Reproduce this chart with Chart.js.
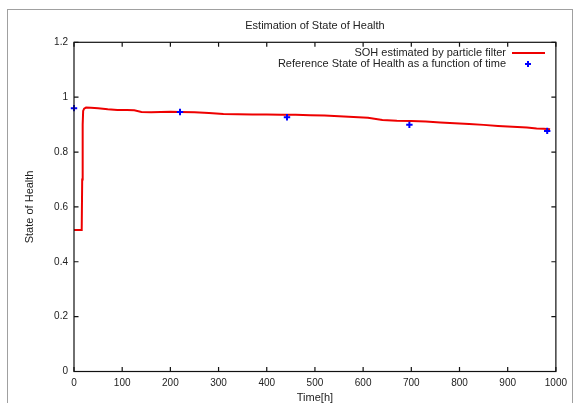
<!DOCTYPE html>
<html>
<head>
<meta charset="utf-8">
<script src="https://cdn.jsdelivr.net/npm/chart.js@4"></script>
<style>
  html, body { margin: 0; padding: 0; background: #fff; }
  #wrap { position: relative; width: 573px; height: 403px; overflow: hidden; }
  #frame { position: absolute; left: 7px; top: 9px; width: 566px; height: 420px; border: 1px solid #a0a0a0; box-sizing: border-box; }
  canvas { position: absolute; left: 0; top: 0; }
</style>
</head>
<body>
<div id="wrap">
  <div id="frame"></div>
  <canvas id="c" width="573" height="403"></canvas>
</div>
<script>
const chartTitle = "Estimation of State of Health";
const xTitle = "Time[h]";
const yTitle = "State of Health";
const filterLabel = "SOH estimated by particle filter";
const refLabel = "Reference State of Health as a function of time";

const xTicks = [0, 100, 200, 300, 400, 500, 600, 700, 800, 900, 1000];
const xTickLabels = ["0", "100", "200", "300", "400", "500", "600", "700", "800", "900", "1000"];
const yTicks = [0, 0.2, 0.4, 0.6, 0.8, 1, 1.2];
const yTickLabels = ["0", "0.2", "0.4", "0.6", "0.8", "1", "1.2"];

const filterTime = [0, 16, 17, 18, 19, 21, 25, 35, 50, 70, 90, 110, 125, 140, 160, 180, 200, 220, 250, 280, 310, 340, 370, 400, 430, 460, 490, 520, 550, 580, 610, 640, 670, 700, 730, 760, 790, 820, 850, 880, 910, 940, 960, 975, 988];
const filterSOH  = [0.516, 0.516, 0.70, 0.90, 0.95, 0.958, 0.962, 0.961, 0.960, 0.956, 0.953, 0.953, 0.952, 0.946, 0.945, 0.946, 0.947, 0.946, 0.945, 0.942, 0.939, 0.938, 0.937, 0.937, 0.936, 0.936, 0.934, 0.933, 0.930, 0.928, 0.925, 0.917, 0.914, 0.913, 0.911, 0.908, 0.905, 0.902, 0.899, 0.895, 0.892, 0.889, 0.886, 0.885, 0.883];

const refTime = [0, 220, 442, 696, 982];
const refSOH  = [0.960, 0.946, 0.927, 0.899, 0.877];

const FONT = "'Liberation Sans', Arial, sans-serif";
const TXT = '#222';

const framePlugin = {
  id: 'gnuFrame',
  afterDatasetsDraw(chart) {
    const {ctx, chartArea: a, scales: {x, y}} = chart;
    ctx.save();
    ctx.strokeStyle = '#111';
    ctx.lineWidth = 1.2;
    ctx.strokeRect(a.left, a.top, a.right - a.left, a.bottom - a.top);
    const tl = 4.5;
    ctx.beginPath();
    xTicks.forEach(v => {
      const px = x.getPixelForValue(v);
      ctx.moveTo(px, a.bottom); ctx.lineTo(px, a.bottom - tl);
      ctx.moveTo(px, a.top); ctx.lineTo(px, a.top + tl);
    });
    yTicks.forEach(v => {
      const py = y.getPixelForValue(v);
      ctx.moveTo(a.left, py); ctx.lineTo(a.left + tl, py);
      ctx.moveTo(a.right, py); ctx.lineTo(a.right - tl, py);
    });
    ctx.stroke();

    // title
    ctx.fillStyle = TXT;
    ctx.font = '11px ' + FONT;
    ctx.textAlign = 'center';
    ctx.textBaseline = 'middle';
    ctx.fillText(chartTitle, (a.left + a.right) / 2, 26);

    // legend
    const ds = chart.data.datasets;
    const textRight = 506;
    ctx.textAlign = 'right';
    ctx.fillText(ds[0].label, textRight, 53);
    ctx.fillText(ds[1].label, textRight, 64);
    ctx.strokeStyle = ds[0].borderColor;
    ctx.lineWidth = 2;
    ctx.beginPath();
    ctx.moveTo(512, 53); ctx.lineTo(545, 53);
    ctx.stroke();
    ctx.strokeStyle = ds[1].borderColor;
    ctx.lineWidth = 2;
    ctx.beginPath();
    ctx.moveTo(525, 64); ctx.lineTo(531, 64);
    ctx.moveTo(528, 61); ctx.lineTo(528, 67);
    ctx.stroke();
    ctx.restore();
  }
};

new Chart(document.getElementById('c'), {
  type: 'scatter',
  data: {
    datasets: [
      {
        label: filterLabel,
        data: filterTime.map((t, i) => ({x: t, y: filterSOH[i]})),
        showLine: true,
        borderColor: '#ee0000',
        backgroundColor: '#ee0000',
        borderWidth: 2,
        pointRadius: 0,
        tension: 0,
        order: 2
      },
      {
        label: refLabel,
        data: refTime.map((t, i) => ({x: t, y: refSOH[i]})),
        showLine: false,
        borderColor: '#0000ff',
        backgroundColor: '#0000ff',
        pointStyle: 'cross',
        pointRadius: 3.2,
        pointBorderWidth: 2,
        clip: false,
        order: 1
      }
    ]
  },
  options: {
    responsive: false,
    animation: false,
    devicePixelRatio: 1,
    layout: { padding: { left: 0, right: 15.7, top: 42.3, bottom: 0 } },
    plugins: { legend: { display: false }, title: { display: false }, tooltip: { enabled: false } },
    scales: {
      x: {
        type: 'linear',
        min: 0, max: 1000,
        afterBuildTicks: s => { s.ticks = xTicks.map(v => ({value: v})); },
        afterFit: s => { s.height = 31.5; },
        grid: { display: false, drawTicks: false },
        border: { display: false },
        ticks: { padding: 6, color: TXT, font: { family: FONT, size: 10 }, maxRotation: 0, autoSkip: false,
                 callback: (v, i) => xTickLabels[i] },
        title: { display: true, text: xTitle, color: TXT, font: { family: FONT, size: 11 }, padding: { top: 0, bottom: -2 } }
      },
      y: {
        type: 'linear',
        min: 0, max: 1.2,
        afterBuildTicks: s => { s.ticks = yTicks.map(v => ({value: v})); },
        afterFit: s => { s.width = 74; },
        grid: { display: false, drawTicks: false },
        border: { display: false },
        ticks: { padding: 6, color: TXT, font: { family: FONT, size: 10 }, autoSkip: false,
                 callback: (v, i) => yTickLabels[i] },
        title: { display: true, text: yTitle, color: TXT, font: { family: FONT, size: 11 }, padding: { top: 23, bottom: 0 } }
      }
    }
  },
  plugins: [framePlugin]
});
</script>
</body>
</html>
